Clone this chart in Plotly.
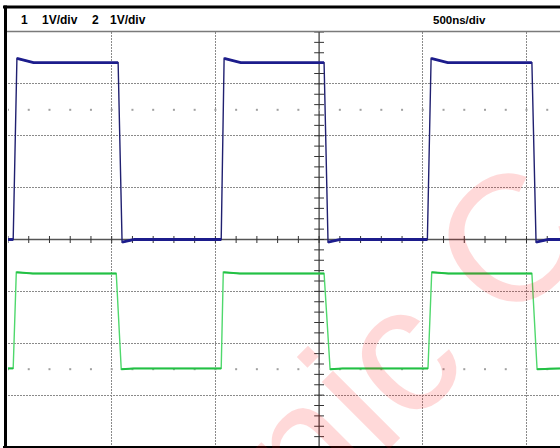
import numpy as np
import plotly.graph_objects as go

# ---- data (time in ns, amplitude in screen divisions = volts at 1V/div) ----
ch1_rise_start = [-1475, -472, 522]
ch1_rise_end = [-1457, -458, 540]
ch1_fall_start = [-969, 24, 1026]
ch1_fall_end = [-950, 43, 1046]
ch1_low, ch1_high, ch1_peak, ch1_dip = 0.0, 3.41, 3.49, -0.05

ch2_rise_start = [-1475, -472, 525]
ch2_rise_end = [-1460, -462, 543]
ch2_fall_start = [-978, 24, 1026]
ch2_fall_end = [-954, 53, 1051]
ch2_low, ch2_high, ch2_peak, ch2_dip = -2.485, -0.655, -0.63, -2.50

header_left = ["1", "1V/div", "2", "1V/div"]
header_left_x = [19, 40, 90, 108]
header_right = "500ns/div"
watermark = "nic C"

X0, X1 = -1500, 1161.5
Y0, Y1 = -4, 4


def square_wave(rs, re, fs, fe, low, high, peak, dip):
    xs, ys = [X0], [low]
    for a, b, c, d in zip(rs, re, fs, fe):
        xs += [a, b, b + 80, c, d, d + 60]
        ys += [low, peak, high, high, dip, low]
    xs.append(X1)
    ys.append(low)
    return xs, ys


def levels_only(rs, re, fs, fe, low, high, peak, dip):
    xs, ys = [X0, rs[0], None], [low, low, None]
    for i, (a, b, c, d) in enumerate(zip(rs, re, fs, fe)):
        nxt = rs[i + 1] if i + 1 < len(rs) else X1
        xs += [b, b + 80, c, None, d, d + 60, nxt, None]
        ys += [peak, high, high, None, dip, low, low, None]
    return xs, ys


fig = go.Figure()

# graticule ticks on centre axes and dotted rows
tx = np.arange(-1500, 1161, 100)
ty = np.arange(-4, 4.01, 0.2)
fig.add_trace(go.Scatter(x=tx, y=np.zeros_like(tx, dtype=float), mode="markers",
                         marker=dict(symbol="line-ns", size=5, line=dict(width=1, color="#333")),
                         hoverinfo="skip", showlegend=False))
fig.add_trace(go.Scatter(x=np.zeros_like(ty), y=ty, mode="markers",
                         marker=dict(symbol="line-ew", size=7, line=dict(width=1, color="#333")),
                         hoverinfo="skip", showlegend=False))
for yy in (2.5, -2.5):
    fig.add_trace(go.Scatter(x=tx, y=np.full(len(tx), yy), mode="markers",
                             marker=dict(symbol="square", size=2, color="#a0a0a0"),
                             hoverinfo="skip", showlegend=False))

a2 = (ch2_rise_start, ch2_rise_end, ch2_fall_start, ch2_fall_end, ch2_low, ch2_high, ch2_peak, ch2_dip)
x2, y2 = square_wave(*a2)
fig.add_trace(go.Scatter(x=x2, y=y2, mode="lines", line=dict(color="#4fd86c", width=1.4),
                         hoverinfo="skip", showlegend=False))
lx2, ly2 = levels_only(*a2)
fig.add_trace(go.Scatter(x=lx2, y=ly2, mode="lines", line=dict(color="#22c044", width=2),
                         hoverinfo="skip", showlegend=False, connectgaps=False))

a1 = (ch1_rise_start, ch1_rise_end, ch1_fall_start, ch1_fall_end, ch1_low, ch1_high, ch1_peak, ch1_dip)
x1, y1 = square_wave(*a1)
fig.add_trace(go.Scatter(x=x1, y=y1, mode="lines", line=dict(color="#202070", width=1.4),
                         hoverinfo="skip", showlegend=False))
lx1, ly1 = levels_only(*a1)
fig.add_trace(go.Scatter(x=lx1, y=ly1, mode="lines", line=dict(color="#1c1c8c", width=2.8),
                         hoverinfo="skip", showlegend=False, connectgaps=False))

L, T, B, W, H = 8, 32, 1, 560, 448
pw, ph = W - L, H - T - B


def px(x):
    return (x - L) / pw


def py(y):
    return (H - B - y) / ph


shapes = [
    dict(type="line", xref="x", yref="y", x0=0, x1=0, y0=Y0, y1=Y1,
         line=dict(color="#333", width=1.2), layer="between"),
    dict(type="line", xref="x", yref="y", x0=X0, x1=X1, y0=0, y1=0,
         line=dict(color="#555", width=1.5), layer="between"),
    dict(type="line", xref="paper", yref="paper", x0=px(4), x1=px(562), y0=py(31.5), y1=py(31.5),
         line=dict(color="#7a7a7a", width=1.5)),
    dict(type="line", xref="paper", yref="paper", x0=px(3), x1=px(562), y0=py(7), y1=py(7),
         line=dict(color="black", width=3)),
    dict(type="line", xref="paper", yref="paper", x0=px(5.5), x1=px(5.5), y0=py(449), y1=py(5.5),
         line=dict(color="black", width=3)),
    dict(type="line", xref="paper", yref="paper", x0=px(3), x1=px(562), y0=py(447.2), y1=py(447.2),
         line=dict(color="black", width=2.5)),
]

annotations = []
for t, xx in zip(header_left, header_left_x):
    annotations.append(dict(text="<b>%s</b>" % t, xref="paper", yref="paper", x=px(xx), y=py(19.5),
                            xanchor="left", yanchor="middle", showarrow=False,
                            font=dict(family="Liberation Sans, Arial", size=12, color="black")))
annotations.append(dict(text="<b>%s</b>" % header_right, xref="paper", yref="paper", x=px(431), y=py(19.5),
                        xanchor="left", yanchor="middle", showarrow=False,
                        font=dict(family="Liberation Sans, Arial", size=11.5, color="black")))
annotations.append(dict(text=watermark, xref="paper", yref="paper", x=px(410), y=py(339),
                        xanchor="center", yanchor="middle", showarrow=False, textangle=-45,
                        font=dict(family="Liberation Sans, Arial", size=180, color="rgba(255,0,0,0.15)")))

fig.update_layout(
    width=W, height=H, margin=dict(l=L, r=0, t=T, b=B, pad=0),
    paper_bgcolor="white", plot_bgcolor="white",
    xaxis=dict(range=[X0, X1], tickvals=[-1000, -500, 500, 1000], showticklabels=False,
               showgrid=True, gridcolor="#8a8a8a", griddash="2px,1px", gridwidth=1,
               zeroline=False, showline=False, ticks="", fixedrange=True),
    yaxis=dict(range=[Y0, Y1], tickvals=[-3, -2, -1, 1, 2, 3], showticklabels=False,
               showgrid=True, gridcolor="#8a8a8a", griddash="2px,1px", gridwidth=1,
               zeroline=False, showline=False, ticks="", fixedrange=True),
    shapes=shapes, annotations=annotations, showlegend=False,
)

fig.write_html("out.html", config={"displayModeBar": False},
               post_script="document.body.style.margin='0px';document.body.style.padding='0px';document.body.style.overflow='hidden';")
